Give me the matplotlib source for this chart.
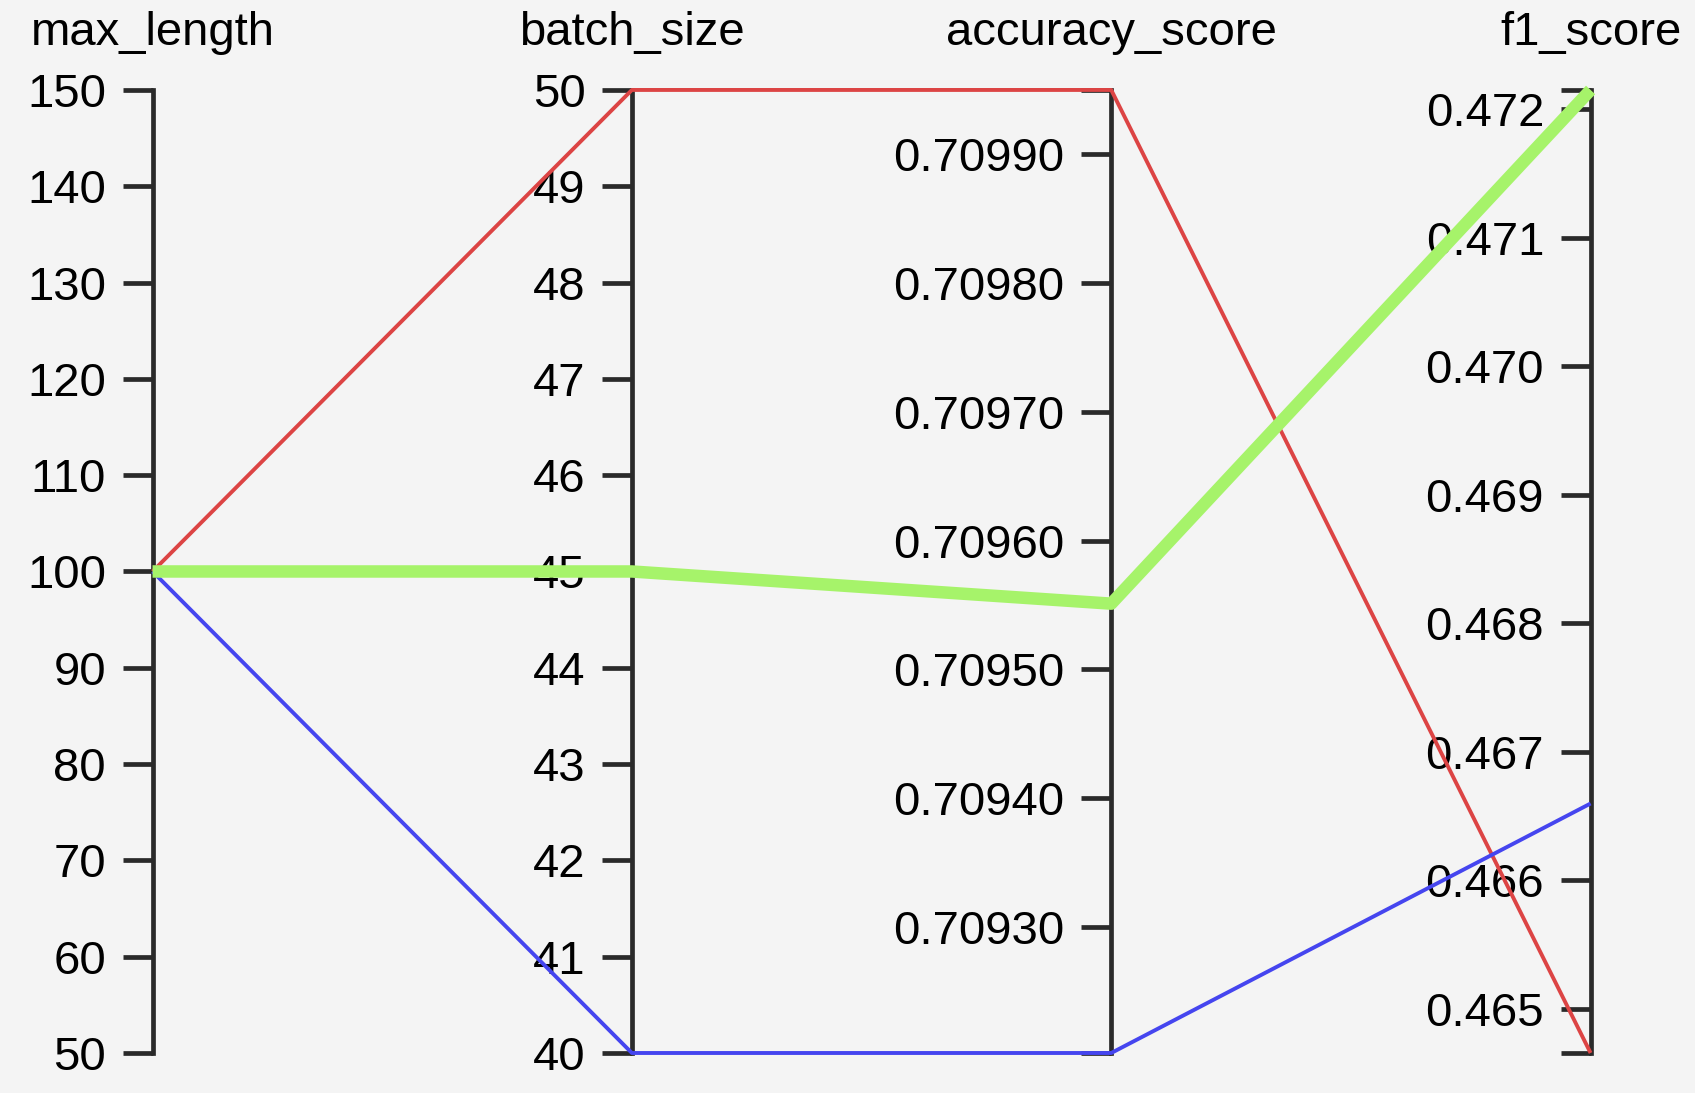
import matplotlib
matplotlib.use("Agg")
from matplotlib import pyplot as plt
import numpy as np

plt.rcParams['font.family'] = ['Liberation Sans', 'DejaVu Sans']

# data
dims = ["max_length", "batch_size", "accuracy_score", "f1_score"]
max_length = [100, 100, 100]
batch_size = [50, 45, 40]
accuracy_score = [0.709950, 0.709551, 0.709202]
f1_score = [0.464658, 0.472150, 0.466599]
line_colors = ["#dc4444", "#a6f36a", "#4545ef"]
line_widths = [2.8, 9.0, 2.8]

ranges = [(50, 150), (40, 50), (min(accuracy_score), max(accuracy_score)), (min(f1_score), max(f1_score))]
ticks = [np.arange(50, 151, 10), np.arange(40, 51, 1),
         np.array([0.7093, 0.7094, 0.7095, 0.7096, 0.7097, 0.7098, 0.7099]),
         np.array([0.465, 0.466, 0.467, 0.468, 0.469, 0.470, 0.471, 0.472])]
fmts = ["{:.0f}", "{:.0f}", "{:.5f}", "{:.3f}"]

bg = "#f4f4f4"
axcol = "#2a2a2a"
fs = 34

fig = plt.figure(figsize=(16.95, 10.93), dpi=100, facecolor=bg)
left, right, bottom, top = 0.0900, 0.9384, 0.0366, 0.9177
width, height = right - left, top - bottom

# vertical axes
xs = np.linspace(left, right, len(dims))
for i, name in enumerate(dims):
    a = fig.add_axes([xs[i], bottom, 0.00001, height])
    a.set_facecolor("none")
    lo, hi = ranges[i]
    a.set_ylim(lo, hi)
    a.set_xticks([])
    for s in ["top", "right", "bottom"]:
        a.spines[s].set_visible(False)
    a.spines["left"].set_color(axcol)
    a.spines["left"].set_linewidth(3.4)
    a.set_yticks(ticks[i])
    a.set_yticklabels([fmts[i].format(t) for t in ticks[i]])
    a.set_yticks([lo, hi], minor=True)
    a.tick_params(axis="y", which="both", direction="out", length=21.5, width=3.4,
                  color=axcol, labelsize=fs, pad=12, labelcolor="black")
    a.tick_params(axis="y", which="minor", labelleft=False)
    fig.text(xs[i], 0.970, name, ha="center", va="center", fontsize=fs)

# lines between axes
ax = fig.add_axes([left, bottom, width, height])
ax.set_xlim(0, len(dims) - 1)
ax.set_ylim(0, 1)
ax.axis("off")
cols = [max_length, batch_size, accuracy_score, f1_score]
order = [0, 2, 1]
for k in order:
    yn = [(cols[i][k] - ranges[i][0]) / (ranges[i][1] - ranges[i][0]) for i in range(len(dims))]
    ax.plot(range(len(dims)), yn, color=line_colors[k], lw=line_widths[k],
            clip_on=False, solid_capstyle="butt", zorder=3)

fig.savefig("out.png", dpi=100, facecolor=bg)
